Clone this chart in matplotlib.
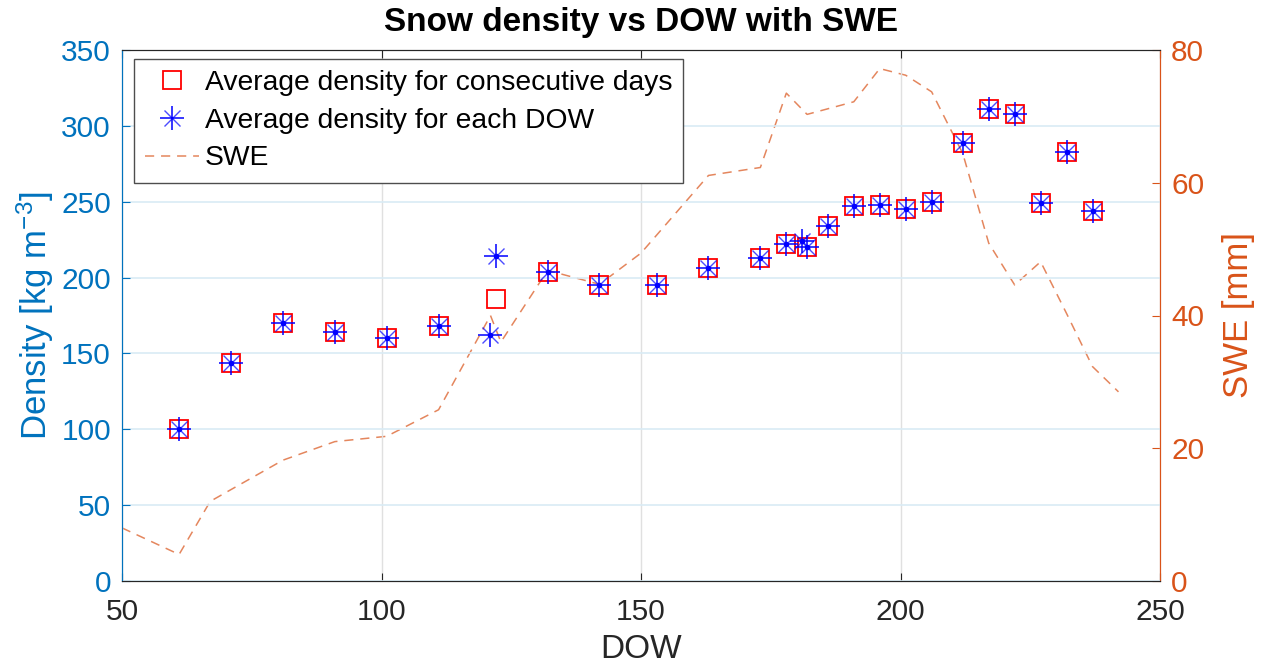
import numpy as np
import matplotlib
matplotlib.use("Agg")
import matplotlib.pyplot as plt
from matplotlib.legend_handler import HandlerTuple

plt.rcParams['font.family'] = ['Liberation Sans', 'DejaVu Sans']
plt.rcParams['mathtext.fontset'] = 'custom'
plt.rcParams['mathtext.rm'] = 'Liberation Sans'
plt.rcParams['mathtext.default'] = 'regular'

# average density for consecutive days (red squares)
cons_dow = [61, 71, 81, 91, 101, 111, 122, 132, 142, 153, 163, 173, 178, 182,
            186, 191, 196, 201, 206, 212, 217, 222, 227, 232, 237]
cons_density = [100, 144, 170, 164, 160, 168, 186, 204, 195, 195, 206, 213, 222, 220,
                234, 247, 248, 245, 250, 289, 311, 308, 249, 283, 244]

# average density for each DOW (blue asterisks)
dow = [61, 71, 81, 91, 101, 111, 121, 122, 132, 142, 153, 163, 173, 178, 181, 182,
       186, 191, 196, 201, 206, 212, 217, 222, 227, 232, 237]
density = [100, 144, 170, 164, 160, 168, 162, 214, 204, 195, 195, 206, 213, 222, 224, 220,
           234, 247, 248, 245, 250, 289, 311, 308, 249, 283, 244]

# SWE (right axis)
swe_dow = [50, 61, 67, 81, 91, 101, 111, 121, 123, 132, 142, 150, 163, 173, 178,
           182, 191, 196, 201, 206, 212, 217, 222, 227, 232, 237, 242]
swe = [8, 4, 12, 18.2, 21, 21.8, 25.8, 40, 36, 46.8, 44.7, 49.4, 61.1, 62.3, 73.5,
       70.3, 72.2, 77.2, 76.2, 73.7, 64.4, 50.9, 44.6, 48.1, 40.3, 32.3, 28.5]

BLUE = (0, 0.447, 0.741)
ORANGE = (0.85, 0.325, 0.098)
DARK = (0.15, 0.15, 0.15)

fig = plt.figure(figsize=(12.61, 6.71), dpi=100)
ax = fig.add_axes([122 / 1261, 1 - 581 / 671, (1160 - 122) / 1261, (581 - 50) / 671])
ax2 = ax.twinx()

# density axis
sq, = ax.plot(cons_dow, cons_density, ls='none', marker='s', ms=13.5,
              mfc='none', mec='red', mew=1.3, zorder=3)
plus, = ax.plot(dow, density, ls='none', marker='+', ms=17, mec='blue', mew=1.1, zorder=4)
cross, = ax.plot(dow, density, ls='none', marker='x', ms=12, mec='blue', mew=1.0,
                 alpha=0.7, zorder=4)
ax.plot(dow, density, ls='none', marker='o', ms=3, mfc='blue', mec='blue', zorder=5)

# SWE axis
swe_line, = ax2.plot(swe_dow, swe, ls=(0, (6, 4.5)), color=ORANGE, lw=1.1, alpha=0.7)

ax.set_xlim(50, 250)
ax.set_ylim(0, 350)
ax2.set_ylim(0, 80)
ax.set_xticks([50, 100, 150, 200, 250])
ax.set_yticks(np.arange(0, 351, 50))
ax2.set_yticks([0, 20, 40, 60, 80])

ax.grid(axis='y', color=(0.85, 0.92, 0.96), lw=1.2)
ax.grid(axis='x', color=(0.88, 0.88, 0.88), lw=1.0)
ax.set_axisbelow(True)

ax.tick_params(axis='x', direction='in', top=True, length=6, colors=DARK, labelsize=21.5, pad=12)
ax.tick_params(axis='y', direction='in', length=6, colors=BLUE, labelsize=21.5, pad=8)
ax2.tick_params(axis='y', direction='in', length=6, colors=ORANGE, labelsize=21.5, pad=8)

for a in (ax, ax2):
    a.spines['left'].set_color(BLUE)
    a.spines['right'].set_color(ORANGE)
    a.spines['bottom'].set_color(DARK)
    a.spines['top'].set_color(DARK)

ax.set_xlabel('DOW', fontsize=24, color=DARK, labelpad=6)
ax.set_ylabel('Density [kg m$^{-3}$]', fontsize=25, color=BLUE, labelpad=4)
ax2.set_ylabel('SWE [mm]', fontsize=25, color=ORANGE, labelpad=13)
ax.set_title('Snow density vs DOW with SWE', fontsize=24, fontweight='bold', pad=14)

leg = ax.legend([sq, (plus, cross), swe_line],
                ['Average density for consecutive days', 'Average density for each DOW', 'SWE'],
                handler_map={tuple: HandlerTuple(ndivide=1, pad=0)},
                loc='upper left', bbox_to_anchor=(0.0116, 0.983), fontsize=20.3,
                fancybox=False, framealpha=1, edgecolor=(0.3, 0.3, 0.3),
                handlelength=1.9, handletextpad=0.2, borderpad=0.4, labelspacing=0.41,
                borderaxespad=0)
leg.get_frame().set_linewidth(1.0)
leg.set_zorder(10)
ax.set_zorder(ax2.get_zorder() + 1)
ax.patch.set_visible(False)

fig.savefig('out.png', dpi=100)
